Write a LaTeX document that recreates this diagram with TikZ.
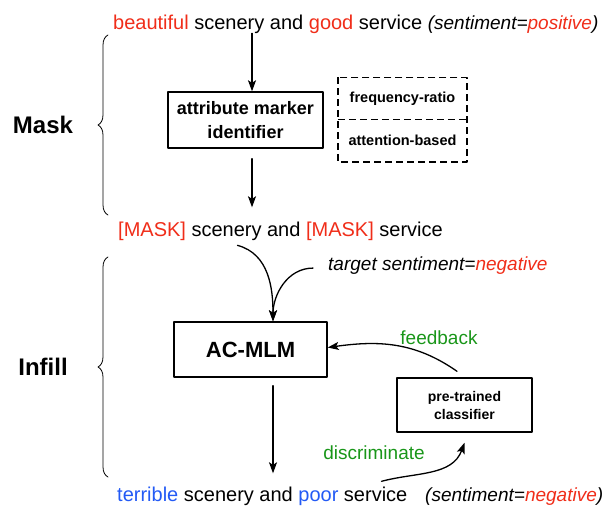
\documentclass[tikz,border=0pt]{standalone}
\usepackage{fontspec}
\setmainfont{Liberation Sans}
\usetikzlibrary{arrows.meta,decorations.pathreplacing}
\definecolor{markred}{RGB}{240,45,25}
\definecolor{markblue}{RGB}{35,90,245}
\definecolor{fbgreen}{RGB}{25,150,25}
\begin{document}
\begin{tikzpicture}[x=1pt,y=1pt,>={Stealth[length=11pt,width=8pt,inset=2.5pt]}, line join=round, line cap=round,
	sent/.style={inner sep=0pt, anchor=base west, font=\fontsize{20}{24}\selectfont},
	tag/.style={inner sep=0pt, anchor=base west, font=\fontsize{19}{23}\selectfont\itshape},
	stage/.style={font=\fontsize{24}{28}\selectfont\bfseries},
	box/.style={draw, line width=1.4pt, align=center, inner sep=0pt},
	dashbox/.style={inner sep=0pt, minimum width=129pt, minimum height=42pt, font=\fontsize{14.5}{18}\selectfont\bfseries},
	dashline/.style={dash pattern=on 7pt off 4pt, line width=1.6pt, line cap=butt},
	link/.style={->, line width=1.3pt},
	note/.style={text=fbgreen, font=\fontsize{19}{23}\selectfont}]
			\def\dx{22.5} \def\ax{6.5}
			\useasboundingbox (0,0) rectangle (605,-506);
			% stage labels and braces
			\node[stage] (mask) at (43,-125) {Mask};
			\node[stage] (infill) at (43,-367) {Infill};
			\draw[line width=0.8pt, decorate, decoration={brace, amplitude=10pt}] (108,-215) -- (108,-35);
			\draw[line width=0.8pt, decorate, decoration={brace, amplitude=10pt}] (108,-477) -- (108,-257);
			% sentences
			\node[sent] (src) at (113,-29) {\textcolor{markred}{beautiful} scenery and \textcolor{markred}{good} service
				{\fontsize{19}{23}\selectfont\itshape (sentiment=\textcolor{markred}{positive})}};
			\node[sent] (masked) at (118,-236) {\textcolor{markred}{[MASK]} scenery and \textcolor{markred}{[MASK]} service};
			\node[tag] (target) at (328,-270) {target sentiment=\textcolor{markred}{negative}};
			\node[sent] (out) at (117,-501) {\textcolor{markblue}{terrible} scenery and \textcolor{markblue}{poor} service};
			\node[tag] (outtag) at (425,-501) {(sentiment=\textcolor{markred}{negative})};
			% boxes
			\node[box, minimum width=155pt, minimum height=56pt, font=\fontsize{18}{24}\selectfont\bfseries] (ami) at (245.5,-120) {attribute marker\\identifier};
			\node[dashbox] (freq) at (402.5,-98.5) {frequency-ratio};
			\node[dashbox] (attn) at (402.5,-140.5) {attention-based};
			\draw[dashline] (freq.north west) rectangle (attn.south east);
			\draw[dashline] (attn.north west) -- (attn.north east);
			\node[box, minimum width=153pt, minimum height=55pt, font=\fontsize{22}{26}\selectfont\bfseries] (mlm) at (250.5,-349.5) {AC-MLM};
			\node[box, minimum width=135pt, minimum height=54pt, font=\fontsize{14}{18}\selectfont\bfseries] (clf) at (464.5,-405) {pre-trained\\classifier};
			% connectors
			\draw[link] ([xshift=\ax]ami.north |- src.south) -- ([xshift=\ax]ami.north);
			\draw[link, shorten <=10pt, shorten >=14pt] ([xshift=\ax]ami.south) -- ([xshift=\ax]ami.south |- masked.north);
			\draw[link] ([xshift=-43pt,yshift=-5pt]masked.south) to[out=-15,in=90] ([xshift=\dx]mlm.north);
			\draw[link] ([xshift=-15pt,yshift=-3pt]target.west) to[out=180,in=90] ([xshift=\dx]mlm.north);
			\draw[link, shorten <=8pt, shorten >=13pt] ([xshift=\dx]mlm.south) -- ([xshift=\dx]mlm.south |- out.north);
			\draw[link] ([xshift=-7.5pt,yshift=6pt]clf.north) to[out=145,in=8] ([yshift=2pt]mlm.east);
			\draw[link] ([xshift=-26pt,yshift=5pt]out.north east) to[out=15,in=-110] ([yshift=-10pt]clf.south);
			\node[note] (fb) at (439,-338) {feedback};
			\node[note] (disc) at (374,-453) {discriminate};
			\end{tikzpicture}
\end{document}
